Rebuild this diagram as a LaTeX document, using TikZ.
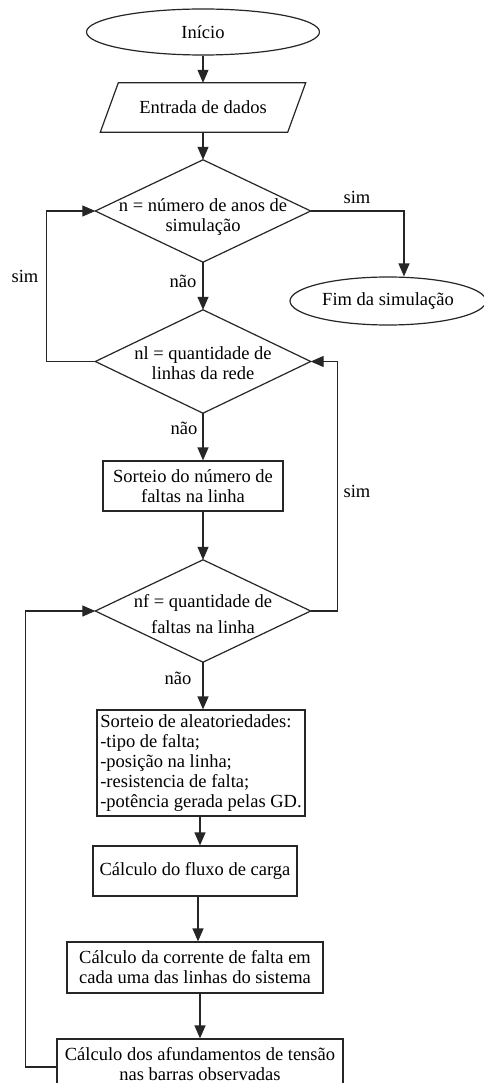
\documentclass[tikz,border=0pt]{standalone}
\usepackage{fontspec}
\setmainfont{Liberation Serif}
\usetikzlibrary{shapes.geometric,arrows.meta}
\begin{document}
\begin{tikzpicture}[x=1pt,y=-1pt,
  every node/.style={font=\fontsize{18.5pt}{20pt}\selectfont},
  line/.style={line width=1.2pt,draw=black!85},
  arr/.style={line, -{Triangle[length=13pt,width=11pt]}},
  ell/.style={ellipse, line, inner sep=0pt},
  box/.style={rectangle, line, inner sep=4pt, align=center},
  dbox/.style={rectangle, inner sep=0pt, minimum width=215pt},
  txt/.style={inner sep=0pt, align=center},
  lbl/.style={inner sep=0pt}]
\useasboundingbox (0,0) rectangle (483,1083);
\fill[white] (0,0) rectangle (483,1083);

% nodes
\node[ell, minimum width=233pt, minimum height=46pt] (inicio) at (203,32) {Início};
\node[inner sep=0pt, minimum width=187pt, minimum height=49pt] (entrada) at (203,107.5) {Entrada de dados};
\draw[line] ([xshift=9pt]entrada.north west) -- ([xshift=9pt]entrada.north east)
  -- ([xshift=-9pt]entrada.south east) -- ([xshift=-9pt]entrada.south west) -- cycle;

\node[dbox, minimum height=102pt] (n) at (203,211) {};
\draw[line] (n.north) -- (n.east) -- (n.south) -- (n.west) -- cycle;
\node[txt] (ntxt) at (203,217) {n = número de anos de\\simulação};

\node[ell, minimum width=196pt, minimum height=48pt] (fim) at (388,301) {Fim da simulação};

\node[dbox, minimum height=103pt] (nl) at (203,361.5) {};
\draw[line] (nl.north) -- (nl.east) -- (nl.south) -- (nl.west) -- cycle;
\node[txt] (nltxt) at (203,363) {nl = quantidade de\\linhas da rede};

\node[box, minimum width=180pt, minimum height=50pt] (s1) at (193,486) {Sorteio do número de\\faltas na linha};

\node[dbox, minimum height=102pt] (nf) at (203,611) {};
\draw[line] (nf.north) -- (nf.east) -- (nf.south) -- (nf.west) -- cycle;
\node[txt] (nftxt) at (203,614) {nf = quantidade de\\[6pt]faltas na linha};

\node[rectangle, line, inner sep=3pt, align=left, minimum width=208pt, minimum height=106pt] (aleat) at (201,763)
  {Sorteio de aleatoriedades:\\-tipo de falta;\\-posição na linha;\\-resistencia de falta;\\-potência gerada pelas GD.};

\node[box, minimum width=204pt, minimum height=50pt] (fluxo) at (195,871) {Cálculo do fluxo de carga};
\node[box, minimum width=256pt, minimum height=51pt] (corr) at (195,967.5) {Cálculo da corrente de falta em\\cada uma das linhas do sistema};
\node[box, minimum width=286pt, minimum height=50pt] (afund) at (200,1064) {Cálculo dos afundamentos de tensão\\nas barras observadas};

% labels
\node[lbl] (l1) at (357,197) {sim};
\node[lbl] (l2) at (25,276) {sim};
\node[lbl] (l3) at (183,281) {não};
\node[lbl] (l4) at (184,428) {não};
\node[lbl] (l5) at (357,491) {sim};
\node[lbl] (l6) at (178,678) {não};

% connectors
\draw[arr] (inicio.south) -- (entrada.north);
\draw[arr] (entrada.south) -- (n.north);
\draw[arr] (n.south) -- (nl.north);
\draw[arr] (n.east) -| ([xshift=16pt]fim.north);
\draw[arr] (nl.west) -- ++(-49,0) |- (n.west);
\draw[arr] (nl.south) -- (nl.south |- s1.north);
\draw[arr] (s1.south -| nf.north) -- (nf.north);
\draw[arr] (nf.east) -- ++(27,0) |- (nl.east);
\draw[arr] (nf.south) -- (nf.south |- aleat.north);
\draw[arr] ([xshift=-1pt]aleat.south) -- ([xshift=-1pt]aleat.south |- fluxo.north);
\draw[arr] ([xshift=3pt]fluxo.south) -- ([xshift=3pt]fluxo.south |- corr.north);
\draw[arr] ([xshift=5pt]corr.south) -- ([xshift=5pt]corr.south |- afund.north);
\draw[arr] ([yshift=-3pt]afund.west) -- ++(-31,0) |- (nf.west);
\end{tikzpicture}
\end{document}
